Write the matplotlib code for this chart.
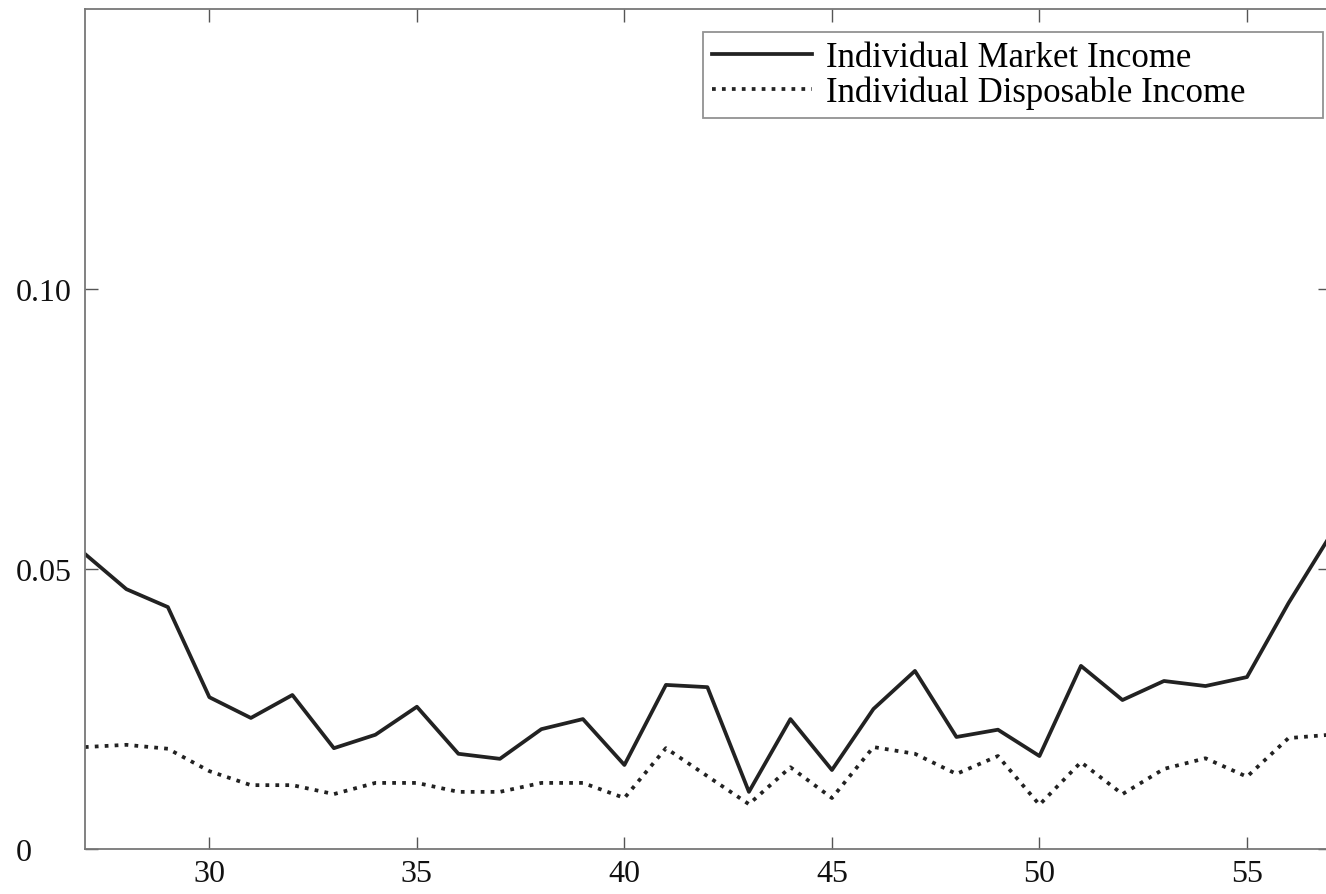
import numpy as np
import matplotlib
matplotlib.use("Agg")
import matplotlib.pyplot as plt

ages = list(range(27, 58))
market = [0.0527, 0.0464, 0.0432, 0.0271, 0.0234, 0.0275, 0.0180, 0.0204, 0.0254, 0.0170,
          0.0161, 0.0214, 0.0232, 0.0150, 0.0293, 0.0289, 0.0102, 0.0232, 0.0141, 0.0250,
          0.0318, 0.0200, 0.0213, 0.0166, 0.0327, 0.0266, 0.0300, 0.0291, 0.0307, 0.0439,
          0.0559]
disposable = [0.0182, 0.0186, 0.0179, 0.0139, 0.0114, 0.0114, 0.0098, 0.0118, 0.0118, 0.0102,
              0.0102, 0.0118, 0.0118, 0.0091, 0.0180, 0.0130, 0.0080, 0.0146, 0.0091, 0.0182,
              0.0170, 0.0134, 0.0166, 0.0079, 0.0155, 0.0098, 0.0143, 0.0162, 0.0129, 0.0198,
              0.0204]
yticks = [0, 0.05, 0.10]
ytick_labels = ["0", "0.05", "0.10"]

plt.rcParams['font.family'] = ['Liberation Serif', 'DejaVu Serif']

fig = plt.figure(figsize=(13.26, 8.95), dpi=100)
ax = fig.add_axes([0.064, 0.0503, 0.939, 0.9385])

ax.plot(ages, market, '-', color='#222222', lw=2.7, label='Individual Market Income')
ax.plot(ages, disposable, ':', color='#222222', lw=2.7, label='Individual Disposable Income')

ax.set_xlim(27, 57)
ax.set_ylim(0, 0.15)
ax.set_xticks(range(30, 56, 5))
ax.set_yticks(yticks)
ax.set_yticklabels(ytick_labels)
ax.tick_params(direction='in', length=9, width=1, colors='#555555', labelcolor='#111111',
               labelsize=23, top=True, right=True)
ax.tick_params(axis='x', pad=7)
ax.tick_params(axis='y', pad=50)
for lab in ax.get_yticklabels():
    lab.set_horizontalalignment('left')
for s in ax.spines.values():
    s.set_color('#777777')
    s.set_linewidth(1.3)

leg = ax.legend(loc='upper left', bbox_to_anchor=(0.4964, 0.8726, 0.498, 0.1), mode='expand',
                fontsize=25, frameon=True, fancybox=False, edgecolor='#777777',
                handlelength=2.9, handletextpad=0.4, borderaxespad=0, labelspacing=0.05,
                borderpad=0.25)
leg.get_frame().set_linewidth(1.3)

fig.savefig('out.png', dpi=100)
